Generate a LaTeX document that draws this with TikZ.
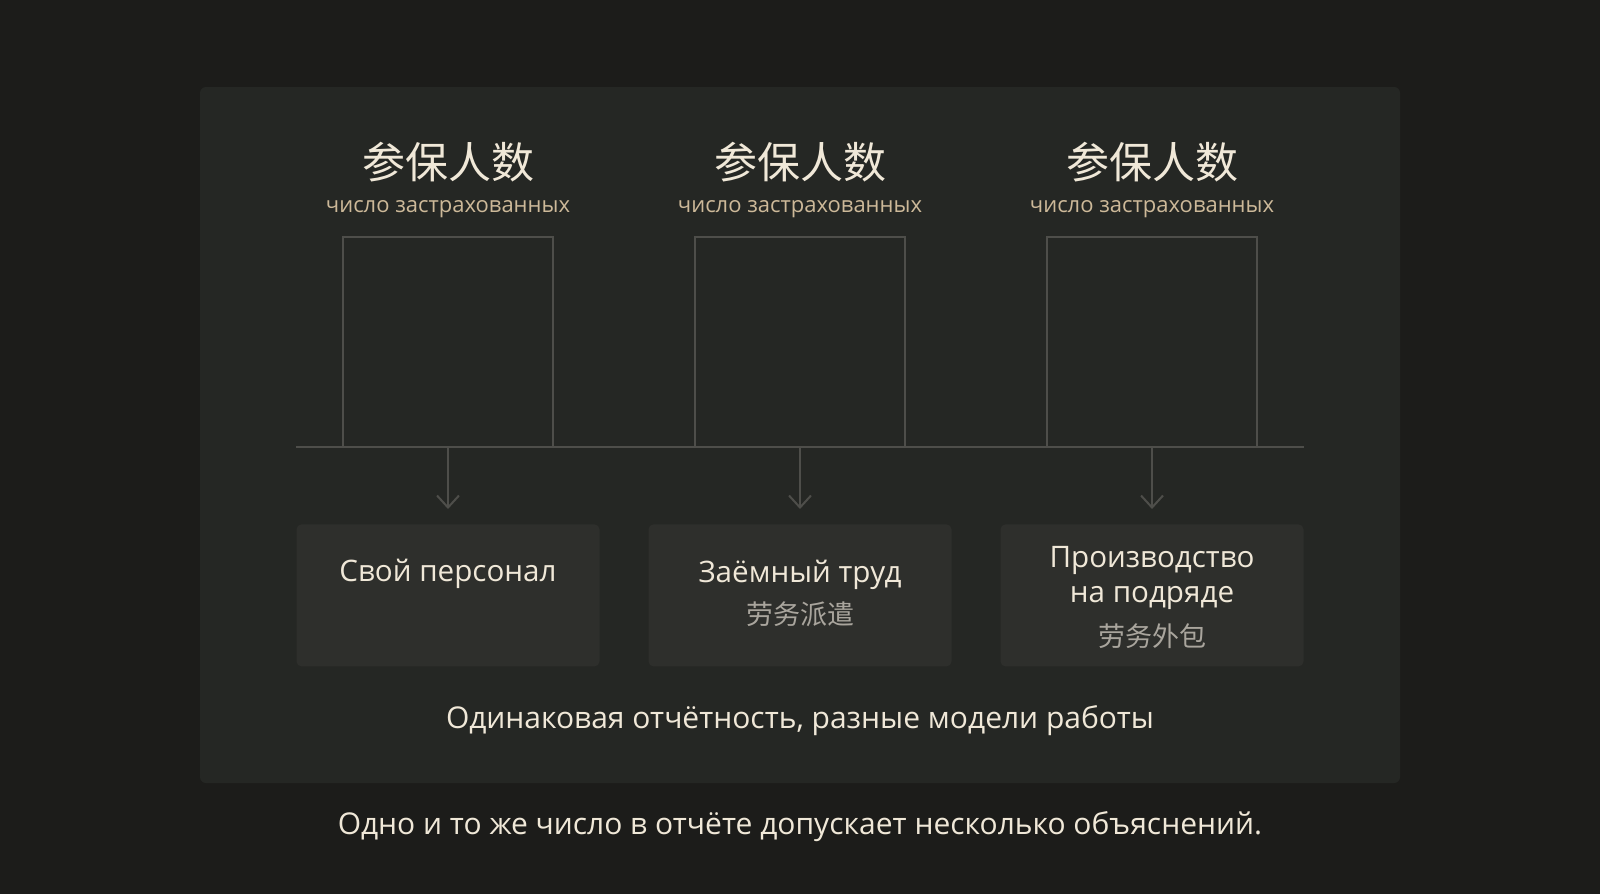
\documentclass[tikz,border=0pt]{standalone}
\usepackage{fontspec}
\setmainfont{Open Sans}
\newfontfamily\cjk{Noto Sans CJK SC}
\definecolor{bgc}{HTML}{1C1C1A}
\definecolor{panelc}{HTML}{252724}
\definecolor{boxc}{HTML}{2E2F2C}
\definecolor{linec}{HTML}{4E4E4A}
\definecolor{titlec}{HTML}{F0E8D8}
\definecolor{subc}{HTML}{CDB999}
\definecolor{cjkc}{HTML}{A9A59D}
\usetikzlibrary{arrows.meta}
\begin{document}
\begin{tikzpicture}[x=0.5pt,y=-0.5pt,
  title/.style={text=titlec,font=\cjk\fontsize{21.5}{24}\selectfont,inner sep=0pt},
  subtitle/.style={text=subc,font=\fontsize{11}{12}\selectfont,inner sep=0pt},
  frame/.style={draw=linec,line width=1pt,outer sep=0pt},
  outbox/.style={fill=boxc,rounded corners=2.5pt,draw=none},
  boxtext/.style={text=titlec,font=\fontsize{14.8}{18}\selectfont,inner sep=0pt,align=center},
  boxcjk/.style={text=cjkc,font=\cjk\fontsize{13.5}{16}\selectfont,inner sep=0pt},
  arr/.style={draw=linec,line width=1pt,-{Straight Barb[length=6pt,width=11pt]}},
  caption/.style={text=titlec,font=\fontsize{15}{18}\selectfont,inner sep=0pt}]
\fill[bgc] (0,0) rectangle (1600,894);
\useasboundingbox (0,0) rectangle (1600,894);
\fill[panelc,rounded corners=3pt] (200,87) rectangle (1400,783);
% columns
\foreach \i/\cx in {1/448,2/800,3/1152}{
  \node[title] (t\i) at (\cx,162) {参保人数};
  \node[subtitle] (s\i) at (\cx,209) {число застрахованных};
  \node[frame,minimum width=105pt,minimum height=105pt,inner sep=0pt,anchor=south] (q\i) at (\cx,447) {};
  \coordinate (j\i) at (\cx,447);
  \node[outbox,minimum width=151.5pt,minimum height=71pt,inner sep=0pt,anchor=north] (b\i) at (\cx,524) {};
  \draw[arr] (j\i) -- (\cx,509);
}
\coordinate (lineL) at (296,447);
\coordinate (lineR) at (1304,447);
\draw[draw=linec,line width=1pt] (lineL) -- (lineR);
\node[boxtext] (l1) at (448,574) {Свой персонал};
\node[boxtext] (l2) at (800,575) {Заёмный труд};
\node[boxcjk] (c2) at (800,614) {劳务派遣};
\node[boxtext] (l3a) at (1152,560) {Производство};
\node[boxtext] (l3b) at (1152,598) {на подряде};
\node[boxcjk] (c3) at (1152,636) {劳务外包};
\node[caption] (cap) at (800,721) {Одинаковая отчётность, разные модели работы};
\node[caption] (foot) at (800,827) {Одно и то же число в отчёте допускает несколько объяснений.};
\end{tikzpicture}
\end{document}
